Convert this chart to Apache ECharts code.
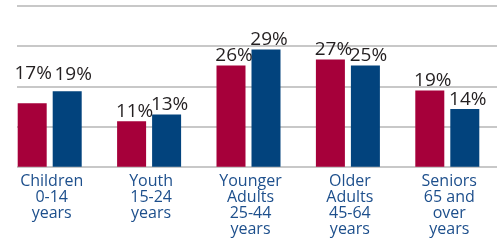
<!DOCTYPE html>
<html><head><meta charset="utf-8">
<script src="https://cdn.jsdelivr.net/npm/echarts@6/dist/echarts.min.js"></script>
<style>html,body{margin:0;padding:0;background:#fff}#c{width:497px;height:244px}</style>
</head><body><div id="c"></div>
<script>
var categories = ['Children\n0-14\nyears', 'Youth\n15-24\nyears', 'Younger\nAdults\n25-44\nyears', 'Older\nAdults\n45-64\nyears', 'Seniors\n65 and\nover\nyears'];
var redValues = [15.8, 11.3, 25.2, 26.7, 19.0];
var blueValues = [18.8, 13.0, 29.2, 25.2, 14.4];
var redLabels = ['17%', '11%', '26%', '27%', '19%'];
var blueLabels = ['19%', '13%', '29%', '25%', '14%'];
var yTicks = [0, 10, 20, 30, 40];

var FONT = 'Open Sans';
var chart = echarts.init(document.getElementById('c'), null, {renderer: 'canvas'});
function mk(vals, labels, extraOffsets) {
  return vals.map(function (v, i) {
    var o = extraOffsets[i] || [3, 0];
    return {value: v, label: {formatter: labels[i], offset: o}};
  });
}
var labelStyle = {show: true, position: 'top', distance: 0, fontFamily: FONT, fontSize: 19, color: '#231f20'};
chart.setOption({
  animation: false,
  grid: [
    {left: -4.75, right: -15.75, top: 6, height: 160.8, containLabel: false},
    {left: 17, right: 0, top: 6, height: 160.8, containLabel: false}
  ],
  xAxis: [
    {type: 'category', gridIndex: 0, data: categories, axisLine: {show: false}, axisTick: {show: false},
     axisLabel: {interval: 0, margin: 7, fontFamily: FONT, fontSize: 16, lineHeight: 16, color: '#1d4f8c', verticalAlign: 'top', padding: [0, 0, 0, 4]}},
    {type: 'value', gridIndex: 1, show: false}
  ],
  yAxis: [
    {type: 'value', gridIndex: 0, min: yTicks[0], max: yTicks[yTicks.length - 1], interval: 10, show: false},
    {type: 'value', gridIndex: 1, min: yTicks[0], max: yTicks[yTicks.length - 1], interval: 10,
     axisLine: {show: false}, axisTick: {show: false}, axisLabel: {show: false},
     splitLine: {show: true, lineStyle: {color: '#c8c8c8', width: 2}}}
  ],
  series: [
    {type: 'bar', xAxisIndex: 0, yAxisIndex: 0, barWidth: 29, barGap: '20.7%', z: 3,
     itemStyle: {color: '#a6003a'}, label: labelStyle,
     data: mk(redValues, redLabels, [[1, -20]])},
    {type: 'bar', xAxisIndex: 0, yAxisIndex: 0, barWidth: 29, barGap: '20.7%', z: 3,
     itemStyle: {color: '#02437d'}, label: labelStyle,
     data: mk(blueValues, blueLabels, [[6, -7]])}
  ]
});
</script></body></html>
